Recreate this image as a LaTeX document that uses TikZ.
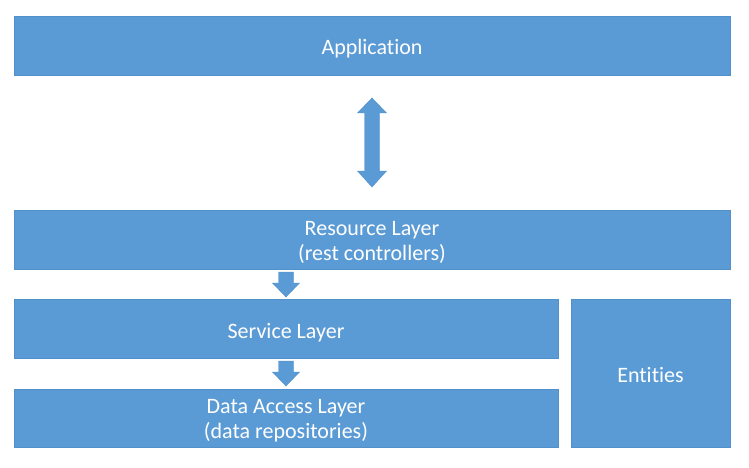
\documentclass[tikz,border=0pt]{standalone}
\usepackage{fontspec}
\setmainfont{Carlito}[Ligatures={NoCommon,NoRare,NoDiscretionary}]
\usetikzlibrary{calc}
\definecolor{layerblue}{HTML}{5B9BD5}
\definecolor{layeredge}{HTML}{5290CA}
\begin{document}
\begin{tikzpicture}[x=1pt,y=-1pt,
  layer/.style={draw=layeredge, line width=0.6pt, fill=layerblue, text=white,
    font=\fontsize{22}{25}\selectfont, align=center, inner sep=0pt, outer sep=0pt,
    text depth=0pt, text height=19pt},
  twolines/.style={text height=41pt},
  blockarrow/.style={fill=layerblue, draw=layeredge, line width=0.4pt, line join=miter}]
\useasboundingbox (0,0) rectangle (749,468);

% layers
\node[layer, minimum width=716pt, minimum height=59pt] (app) at (372,45.5) {Application};
\node[layer, twolines, minimum width=716pt, minimum height=59pt] (res) at (372,239.5) {Resource Layer\\(rest controllers)};
\node[layer, minimum width=544pt, minimum height=59pt] (svc) at (286,328.5) {Service Layer};
\node[layer, twolines, minimum width=544pt, minimum height=58pt] (dal) at (286,418) {Data Access Layer\\(data repositories)};
\node[layer, minimum width=159pt, minimum height=148pt] (ent) at (650.5,373) {Entities};

% two-headed block arrow between application and resource layer
\draw[blockarrow] ($(app.south)+(0,23)$) -- ++(14.5,15) -- ++(-7,0) -- ++(0,58)
  -- ++(7,0) -- ++(-14.5,16) -- ++(-14.5,-16) -- ++(7,0) -- ++(0,-58) -- ++(-7,0) -- cycle;

% downward block arrows
\draw[blockarrow] ($(svc.north |- res.south)+(-7.5,3)$) -- ++(15,0) -- ++(0,11)
  -- ++(6,0) -- ++(-13.5,14) -- ++(-13.5,-14) -- ++(6,0) -- cycle;
\draw[blockarrow] ($(dal.north |- svc.south)+(-7.5,3)$) -- ++(15,0) -- ++(0,11)
  -- ++(6,0) -- ++(-13.5,14) -- ++(-13.5,-14) -- ++(6,0) -- cycle;
\end{tikzpicture}
\end{document}
